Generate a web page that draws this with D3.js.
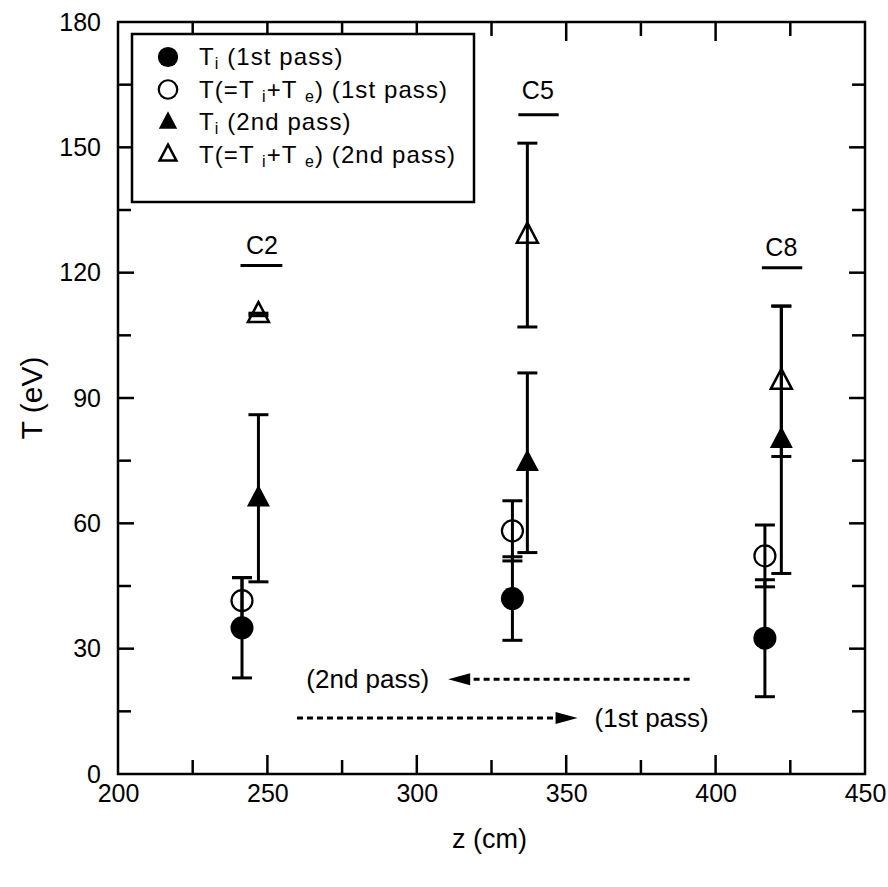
<!DOCTYPE html>
<html>
<head>
<meta charset="utf-8">
<script src="https://cdn.jsdelivr.net/npm/d3@7"></script>
<style>
  html, body { margin: 0; padding: 0; background: #fff; }
  text { font-family: "Liberation Sans", Arial, Helvetica, sans-serif; fill: #000; }
</style>
</head>
<body>
<svg id="chart" width="888" height="887"></svg>
<script>
// ---------- data ----------
const xTicks = [200, 250, 300, 350, 400, 450];
const yTicks = [0, 30, 60, 90, 120, 150, 180];
const xMinor = [225, 275, 325, 375, 425];
const yMinor = [15, 45, 75, 105, 135, 165];

const groups = ["C2", "C5", "C8"];
const zCircle = [241.5, 332, 416.5];     // z (cm) of 1st-pass points
const zTriangle = [247, 337, 422];       // z (cm) of 2nd-pass points

const Ti1 = [35, 42, 32.5];              // Ti (1st pass)
const Ti1Err = [12, 10, 14];
const T1 = [41.5, 58.2, 52.2];           // T (1st pass)
const T1Err = [5.5, 7.2, 7.4];
const Ti2 = [66, 74.5, 80];              // Ti (2nd pass)
const Ti2Err = [20, 21.5, 32];
const T2 = [110, 129, 94];               // T (2nd pass)
const T2Err = [0.3, 22, 18];

const labelZ = [248.2, 340.5, 422];      // C-label positions
const labelT = [124.5, 161.5, 124];
const underlineZ0 = [241, 334, 415.5];
const underlineZ1 = [255, 347.5, 429];
const underlineT = [121.7, 157.8, 121.2];

const passLabels = ["(2nd pass)", "(1st pass)"];
const passLabelZ = [283.6, 378.6];
const passT = [22.7, 13.4];               // level of the arrows
const passFromZ = [391.3, 259.9];
const passToZ = [310.5, 353.8];

const legendLabels = [
  {sym: "circleFilled", parts: [["T",0],["i",1],[" (1st pass)",0]]},
  {sym: "circleOpen", parts: [["T(=T ",0],["i",1],["+T ",0],["e",1],[") (1st pass)",0]]},
  {sym: "triFilled", parts: [["T",0],["i",1],[" (2nd pass)",0]]},
  {sym: "triOpen", parts: [["T(=T ",0],["i",1],["+T ",0],["e",1],[") (2nd pass)",0]]}
];

// ---------- layout ----------
const svg = d3.select("#chart");
const L = 118, R = 865, T = 22, B = 774;
const x = d3.scaleLinear().domain([200, 450]).range([L, R]);
const y = d3.scaleLinear().domain([0, 180]).range([B, T]);

// frame
svg.append("rect").attr("x", L).attr("y", T).attr("width", R - L).attr("height", B - T)
  .attr("fill", "none").attr("stroke", "#000").attr("stroke-width", 2.5);

// axes
const axB = d3.axisBottom(x).tickValues(xTicks).tickSize(0).tickPadding(8);
const gB = svg.append("g").attr("transform", `translate(0,${B})`).call(axB);
gB.select(".domain").remove();
gB.selectAll("text").attr("font-size", 25).attr("font-family", "Liberation Sans, Arial").attr("dy", "0.78em");

const axL = d3.axisLeft(y).tickValues(yTicks).tickSize(0).tickPadding(17);
const gL = svg.append("g").attr("transform", `translate(${L},0)`).call(axL);
gL.select(".domain").remove();
gL.selectAll("text").attr("font-size", 25).attr("font-family", "Liberation Sans, Arial");

// inward ticks
const tk = svg.append("g").attr("stroke", "#000").attr("stroke-width", 2.5);
xTicks.filter(v => v > 200 && v < 450).forEach(v => {
  tk.append("line").attr("x1", x(v)).attr("x2", x(v)).attr("y1", B).attr("y2", B - 19);
  tk.append("line").attr("x1", x(v)).attr("x2", x(v)).attr("y1", T).attr("y2", T + 19);
});
xMinor.forEach(v => {
  tk.append("line").attr("x1", x(v)).attr("x2", x(v)).attr("y1", B).attr("y2", B - 14);
  tk.append("line").attr("x1", x(v)).attr("x2", x(v)).attr("y1", T).attr("y2", T + 14);
});
yTicks.filter(v => v > 0 && v < 180).forEach(v => {
  tk.append("line").attr("x1", L).attr("x2", L + 16).attr("y1", y(v)).attr("y2", y(v));
  tk.append("line").attr("x1", R).attr("x2", R - 16).attr("y1", y(v)).attr("y2", y(v));
});
yMinor.forEach(v => {
  tk.append("line").attr("x1", L).attr("x2", L + 13).attr("y1", y(v)).attr("y2", y(v));
  tk.append("line").attr("x1", R).attr("x2", R - 13).attr("y1", y(v)).attr("y2", y(v));
});

// axis titles
svg.append("text").attr("x", (L + R) / 2 - 2).attr("y", 848).attr("text-anchor", "middle")
  .attr("font-size", 27).text("z (cm)");
svg.append("text").attr("transform", `translate(42,${(T + B) / 2}) rotate(-90)`)
  .attr("text-anchor", "middle").attr("font-size", 30).text("T (eV)");

// ---------- markers ----------
const triPath = (s) => { const h = s * 0.95; return `M0,${-h*0.62}L${s/2},${h*0.38}L${-s/2},${h*0.38}Z`; };
function drawSym(g, sym, cx, cy, scale) {
  const k = scale || 1;
  if (sym === "circleFilled") g.append("circle").attr("cx", cx).attr("cy", cy).attr("r", 11.5 * k).attr("fill", "#000");
  if (sym === "circleOpen") g.append("circle").attr("cx", cx).attr("cy", cy).attr("r", 10.5 * k).attr("fill", "none").attr("stroke", "#000").attr("stroke-width", 2.2);
  if (sym === "triFilled") g.append("path").attr("d", triPath(23 * k)).attr("transform", `translate(${cx},${cy})`).attr("fill", "#000");
  if (sym === "triOpen") g.append("path").attr("d", triPath(21 * k)).attr("transform", `translate(${cx},${cy})`).attr("fill", "none").attr("stroke", "#000").attr("stroke-width", 2.5);
}

function errBars(g, zs, vals, errs) {
  zs.forEach((z, i) => {
    const cx = x(z), y0 = y(vals[i] - errs[i]), y1 = y(vals[i] + errs[i]);
    g.append("line").attr("x1", cx).attr("x2", cx).attr("y1", y0).attr("y2", y1);
    g.append("line").attr("x1", cx - 10).attr("x2", cx + 10).attr("y1", y0).attr("y2", y0);
    g.append("line").attr("x1", cx - 10).attr("x2", cx + 10).attr("y1", y1).attr("y2", y1);
  });
}
const eb = svg.append("g").attr("stroke", "#000").attr("stroke-width", 3);
errBars(eb, zCircle, Ti1, Ti1Err);
errBars(eb, zCircle, T1, T1Err);
errBars(eb, zTriangle, Ti2, Ti2Err);
errBars(eb, zTriangle, T2, T2Err);

const mk = svg.append("g");
zCircle.forEach((z, i) => drawSym(mk, "circleOpen", x(z), y(T1[i])));
zCircle.forEach((z, i) => drawSym(mk, "circleFilled", x(z), y(Ti1[i])));
zTriangle.forEach((z, i) => drawSym(mk, "triFilled", x(z), y(Ti2[i])));
zTriangle.forEach((z, i) => drawSym(mk, "triOpen", x(z), y(T2[i])));

// group labels
groups.forEach((gname, i) => {
  svg.append("text").attr("x", x(labelZ[i])).attr("y", y(labelT[i])).attr("text-anchor", "middle")
    .attr("font-size", 25).text(gname);
  svg.append("line").attr("x1", x(underlineZ0[i])).attr("x2", x(underlineZ1[i]))
    .attr("y1", y(underlineT[i])).attr("y2", y(underlineT[i])).attr("stroke", "#000").attr("stroke-width", 3);
});

// pass arrows
function arrow(zFrom, zTo, tv) {
  const yy = y(tv), xf = x(zFrom), xt = x(zTo);
  const dir = Math.sign(xt - xf);
  const headLen = 22;
  svg.append("line").attr("x1", xf).attr("x2", xt - dir * headLen).attr("y1", yy).attr("y2", yy)
    .attr("stroke", "#000").attr("stroke-width", 3).attr("stroke-dasharray", "6,4");
  svg.append("path").attr("d", `M${xt},${yy}L${xt - dir * headLen},${yy - 6}L${xt - dir * headLen},${yy + 6}Z`).attr("fill", "#000");
}
passLabels.forEach((lab, i) => {
  arrow(passFromZ[i], passToZ[i], passT[i]);
  svg.append("text").attr("x", x(passLabelZ[i])).attr("y", y(passT[i]) + 9).attr("text-anchor", "middle")
    .attr("font-size", 26).text(lab);
});

// ---------- legend ----------
const lg = svg.append("g");
lg.append("rect").attr("x", 132).attr("y", 34).attr("width", 342).attr("height", 168)
  .attr("fill", "#fff").attr("stroke", "#000").attr("stroke-width", 2.5);
legendLabels.forEach((d, i) => {
  const yy = 57 + i * 32.5;
  drawSym(lg, d.sym, 168, yy, d.sym.startsWith("tri") ? 0.8 : 0.88);
  const t = lg.append("text").attr("x", 199).attr("y", yy + 8).attr("font-size", 24)
    .attr("letter-spacing", 1.1);
  d.parts.forEach(([s, sub]) => {
    const ts = t.append("tspan").text(s).attr("y", sub ? yy + 12 : yy + 8);
    if (sub) ts.attr("font-size", 16);
  });
});
</script>
</body>
</html>
